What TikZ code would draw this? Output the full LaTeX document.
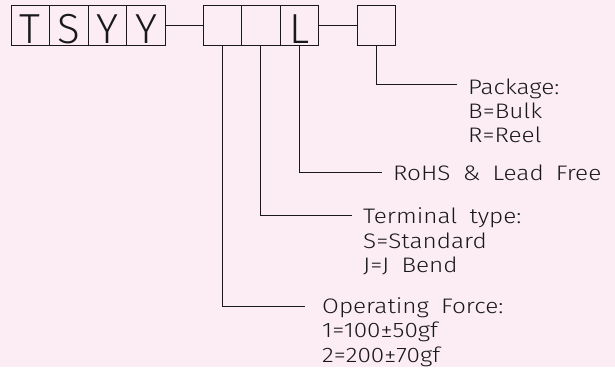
\documentclass[tikz,border=0pt]{standalone}
\usepackage{fontspec}
\setmainfont{Liberation Sans}
\newfontfamily\lblfont{Fira Sans Light}[FakeStretch=1.16,WordSpace=1.8]
\newfontfamily\boxfont{Fira Sans Light}
\definecolor{bg}{RGB}{252,236,244}
\definecolor{ink}{RGB}{25,25,25}
\begin{document}
\begin{tikzpicture}[x=1pt,y=-1pt,
  cell/.style={draw=ink, line width=1pt, minimum width=38.6pt, minimum height=40pt,
    inner sep=0pt, outer sep=0pt, anchor=north west},
  boxltr/.style={anchor=base, inner sep=0pt, text=ink, font=\boxfont\fontsize{42}{42}\selectfont},
  lbl/.style={anchor=base west, inner sep=0pt, text=ink, font=\lblfont\fontsize{21}{24}\selectfont},
  wire/.style={draw=ink, line width=1pt}]
\fill[bg] (0,0) rectangle (615,367);
\useasboundingbox (0,0) rectangle (615,367);
% first group
\node[cell] (b1) at (11,5) {};
\node[cell] (b2) at (b1.north east) {};
\node[cell] (b3) at (b2.north east) {};
\node[cell] (b4) at (b3.north east) {};
\node[boxltr] (lT) at ([yshift=2pt]b1.south) {T};
\node[boxltr] (lS) at ([yshift=2pt]b2.south) {S};
\node[boxltr] (lY1) at ([yshift=2pt]b3.south) {Y};
\node[boxltr] (lY2) at ([yshift=2pt]b4.south) {Y};
% second group
\node[cell] (c1) at (203,5) {};
\node[cell] (c2) at (c1.north east) {};
\node[cell] (c3) at (c2.north east) {};
\node[boxltr] (lL) at ([yshift=2pt]c3.south) {L};
% last box
\node[cell] (d1) at (357,5) {};
% links
\draw[wire] (b4.east) -- (c1.west);
\draw[wire] (c3.east) -- (d1.west);
% leader ends
\coordinate (ePk) at (457,84);
\coordinate (eRo) at (382,172);
\coordinate (eTe) at (352,215);
\coordinate (eOp) at (305,306);
\draw[wire] (d1.south) |- (ePk);
\draw[wire] (c3.south) |- (eRo);
\draw[wire] (c2.south) |- (eTe);
\draw[wire] (c1.south) |- (eOp);
% labels
\node[lbl] (pk1) at (468,94) {Package:};
\node[lbl] (pk2) at (468,118) {B=Bulk};
\node[lbl] (pk3) at (468,142) {R=Reel};
\node[lbl] (ro1) at (393,180) {RoHS \& Lead Free};
\node[lbl] (te1) at (363,223) {Terminal type:};
\node[lbl] (te2) at (363,248) {S=Standard};
\node[lbl] (te3) at (363,272) {J=J Bend};
\node[lbl] (op1) at (322,313) {Operating Force:};
\node[lbl] (op2) at (322,337) {1=100±50gf};
\node[lbl] (op3) at (322,362) {2=200±70gf};
\end{tikzpicture}
\end{document}
